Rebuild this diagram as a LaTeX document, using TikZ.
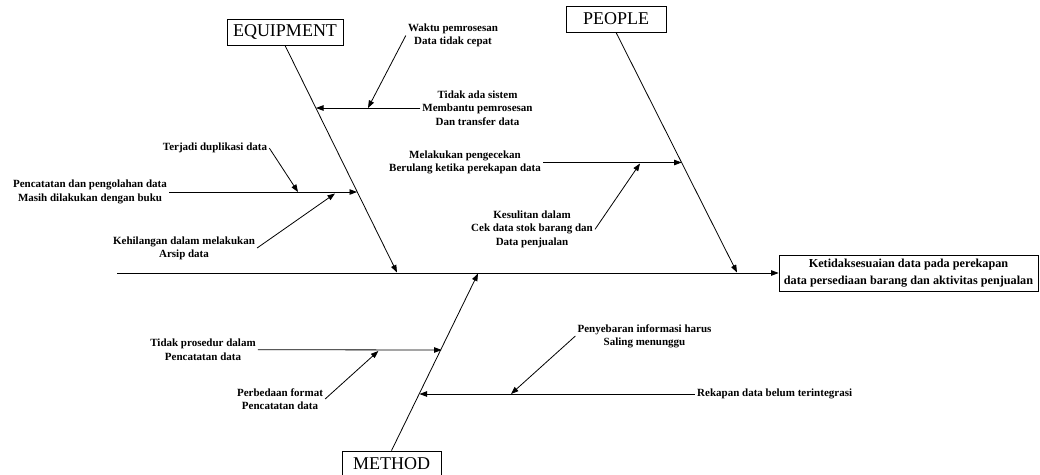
\documentclass[tikz,border=0pt]{standalone}
\usepackage{fontspec}
\setmainfont{Liberation Serif}
\usetikzlibrary{arrows.meta,calc}
\begin{document}
\begin{tikzpicture}[x=1pt,y=-1pt,
  arr/.style={-{Triangle[length=7.5pt,width=5.5pt]}, line width=0.8pt},
  cat/.style={draw, line width=0.8pt, font=\fontsize{18}{20}\selectfont, minimum height=26pt, inner xsep=4pt, inner ysep=0pt},
  lbl/.style={font=\bfseries\fontsize{11}{13.3}\selectfont, align=center, inner sep=2pt},
]
\useasboundingbox (0,0) rectangle (1040,474);
\clip (0,0) rectangle (1040,474);

% category boxes
\node[cat, minimum width=116pt] (eq) at (285,32) {EQUIPMENT};
\node[cat, minimum width=100pt] (pe) at (616,19) {PEOPLE};
\node[cat, minimum width=99pt] (me) at (391.5,464) {METHOD};

% effect box
\node[draw, line width=0.8pt, font=\bfseries\fontsize{12.2}{16.7}\selectfont, align=center, minimum width=259pt, minimum height=36pt, inner sep=2pt] (eff) at (908.5,273) {Ketidaksesuaian data pada perekapan\\data persediaan barang dan aktivitas penjualan};

% spine
\coordinate (tail) at (117,273);
\draw[arr] (tail) -- (eff.west);

% main bones
\coordinate (eqT) at (397,272.5);
\coordinate (peT) at (737,272.5);
\coordinate (meT) at (478,273.5);
\draw[arr] (eq.south) -- (eqT);
\draw[arr] (pe.south) -- (peT);
\draw[arr] (me.north) -- (meT);

% EQUIPMENT causes
\node[lbl] (t0) at (453,35.5) {Waktu pemrosesan\\Data tidak cepat};
\node[lbl] (t1) at (477.5,108) {Tidak ada sistem\\Membantu pemrosesan\\Dan transfer data};
\node[lbl] (t2) at (215,148) {Terjadi duplikasi data};
\node[lbl] (t3) at (90,192) {Pencatatan dan pengolahan data\\Masih dilakukan dengan buku};
\node[lbl] (t4) at (184,248) {Kehilangan dalam melakukan\\Arsip data};
\coordinate (b1) at (316,108);
\coordinate (b1a) at (368,108);
\coordinate (b3) at (357,192);
\coordinate (b3a) at (298,192);
\coordinate (b3b) at (335,193.5);
\draw[arr] (t1.west) -- (b1);
\draw[arr] (t0.west) -- (b1a);
\draw[arr] (t3.east) -- (b3);
\draw[arr] (t2.east) -- (b3a);
\draw[arr] (t4.east) -- (b3b);

% PEOPLE causes
\node[lbl] (t5) at (465,162.5) {Melakukan pengecekan\\Berulang ketika perekapan data};
\node[lbl] (t6) at (532,229.3) {Kesulitan dalam\\Cek data stok barang dan\\Data penjualan};
\coordinate (b5) at (681.6,162.5);
\coordinate (b5a) at (640,163.5);
\draw[arr] (t5.east) -- (b5);
\draw[arr] (t6.east) -- (b5a);

% METHOD causes
\node[lbl] (t7) at (203,349.7) {Tidak prosedur dalam\\Pencatatan data};
\node[lbl] (t8) at (280,399) {Perbedaan format\\Pencatatan data};
\node[lbl, anchor=west] (t9) at (695,394) {Rekapan data belum terintegrasi};
\node[lbl] (t10) at (644.5,336) {Penyebaran informasi harus\\Saling menunggu};
\coordinate (b7) at (441.6,350);
\coordinate (b7a) at (378.3,351);
\coordinate (b9) at (419.5,394);
\coordinate (b9a) at (511,394);
\draw[arr] (t7.east) -- (b7);
\draw[arr] (t8.east) -- (b7a);
\draw[arr] (t9.west) -- (b9);
\draw[arr] (t10.west) -- (b9a);
\end{tikzpicture}
\end{document}
